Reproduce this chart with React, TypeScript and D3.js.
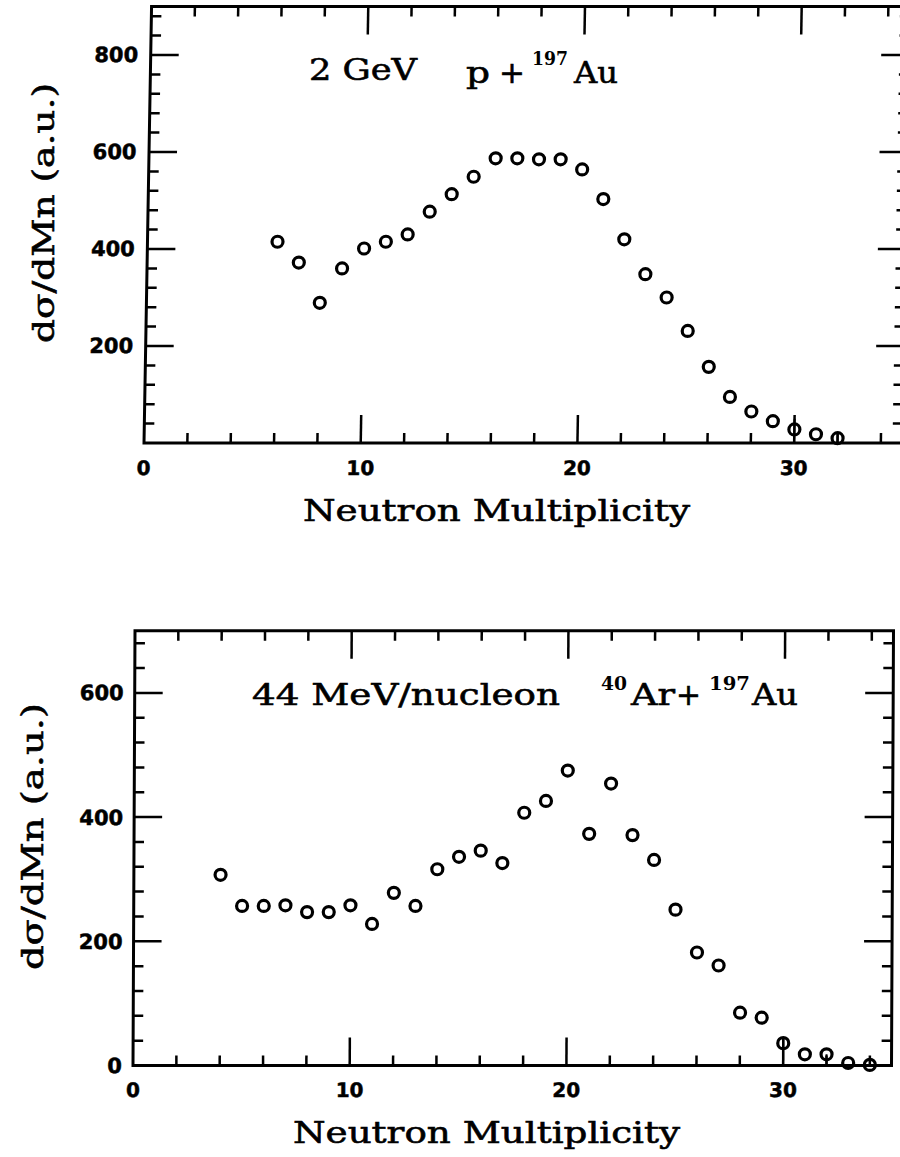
import React from "react";
import * as d3 from "d3";

// ---- data ----
const topN = [6, 7, 8, 9, 10, 11, 12, 13, 14, 15, 16, 17, 18, 19, 20, 21, 22, 23, 24, 25, 26, 27, 28, 29, 30, 31, 32];
const topV = [415, 372, 289, 360, 401, 415, 430, 477, 513, 549, 587, 587, 585, 585, 564, 503, 420, 348, 300, 231, 157, 95, 65, 45, 28, 18, 10];
const topErrN = [30, 32];
const topErrLo = [28, 10];
const topErrHi = [22, 8];

const botN = [4, 5, 6, 7, 8, 9, 10, 11, 12, 13, 14, 15, 16, 17, 18, 19, 20, 21, 22, 23, 24, 25, 26, 27, 28, 29, 30, 31, 32, 33, 34];
const botV = [307, 257, 257, 258, 247, 247, 258, 228, 278, 257, 316, 336, 346, 326, 407, 426, 475, 373, 454, 371, 331, 251, 182, 161, 85, 77, 36, 18, 18, 4, 1];
const botErrN = [30, 32];
const botErrLo = [36, 18];
const botErrHi = [10, 0];

const xTickLabels = [0, 10, 20, 30];
const topYTickLabels = [200, 400, 600, 800];
const botYTickLabels = [0, 200, 400, 600];

const xTitle = "Neutron Multiplicity";
const yTitle = "d\u03c3/dMn (a.u.)";

const SERIF = "'DejaVu Serif', serif";
const SANSB = "'DejaVu Sans', sans-serif";

type PanelProps = {
  x0: number; x1: number; yb: number; yt: number;
  yMax: number; skew: number;
  ns: number[]; vs: number[];
  errN: number[]; errLo: number[]; errHi: number[];
  yLabels: number[]; labelGap: number;
};

function Panel(p: PanelProps) {
  const x = d3.scaleLinear().domain([0, 35]).range([p.x0, p.x1]);
  const y = d3.scaleLinear().domain([0, p.yMax]).range([p.yb, p.yt]);
  const xMinor = d3.range(2, 35, 2).filter((v) => v % 10 !== 0);
  const xMajor = [10, 20, 30];
  const yMinor = d3.range(40, p.yMax, 40).filter((v) => v % 200 !== 0);
  const yMajor = d3.range(200, p.yMax, 200);
  const k = p.skew;
  const tf = `matrix(1,0,${k},1,${-k * p.yb},0)`;
  const MAJ = 28, MIN = 10;
  const ax = { stroke: "#000", strokeWidth: 3, fill: "none" } as const;
  const tk = { stroke: "#000", strokeWidth: 2.5 } as const;
  return (
    <g transform={tf}>
      <rect x={x(0)} y={y(p.yMax)} width={x(35) - x(0)} height={y(0) - y(p.yMax)} {...ax} />
      {xMinor.map((v) => (
        <g key={"xm" + v}>
          <line x1={x(v)} x2={x(v)} y1={y(0)} y2={y(0) - MIN} {...tk} />
          <line x1={x(v)} x2={x(v)} y1={y(p.yMax)} y2={y(p.yMax) + MIN} {...tk} />
        </g>
      ))}
      {xMajor.map((v) => (
        <g key={"xM" + v}>
          <line x1={x(v)} x2={x(v)} y1={y(0)} y2={y(0) - MAJ} {...tk} />
          <line x1={x(v)} x2={x(v)} y1={y(p.yMax)} y2={y(p.yMax) + MAJ} {...tk} />
        </g>
      ))}
      {yMinor.map((v) => (
        <g key={"ym" + v}>
          <line x1={x(0)} x2={x(0) + MIN} y1={y(v)} y2={y(v)} {...tk} />
          <line x1={x(35)} x2={x(35) - MIN} y1={y(v)} y2={y(v)} {...tk} />
        </g>
      ))}
      {yMajor.map((v) => (
        <g key={"yM" + v}>
          <line x1={x(0)} x2={x(0) + MAJ} y1={y(v)} y2={y(v)} {...tk} />
          <line x1={x(35)} x2={x(35) - MAJ} y1={y(v)} y2={y(v)} {...tk} />
        </g>
      ))}
      {p.yLabels.map((v) => (
        <text key={"yl" + v} x={x(0) - p.labelGap} y={y(v) + 7.5} textAnchor="end"
          fontFamily={SANSB} fontWeight="bold" fontSize={21} stroke="#000" strokeWidth={0.5}>{v}</text>
      ))}
      {xTickLabels.map((v) => (
        <text key={"xl" + v} x={x(v)} y={y(0) + 32} textAnchor="middle"
          fontFamily={SANSB} fontWeight="bold" fontSize={20} stroke="#000" strokeWidth={0.5}>{v}</text>
      ))}
      {p.errN.map((n, i) => {
        const v = p.vs[p.ns.indexOf(n)];
        return (
          <line key={"e" + n} x1={x(n)} x2={x(n)} y1={y(Math.max(0, v - p.errLo[i]))} y2={y(v + p.errHi[i])}
            stroke="#000" strokeWidth={2} />
        );
      })}
      {p.ns.map((n, i) => (
        <circle key={"c" + n} cx={x(n)} cy={y(p.vs[i])} r={5.5} fill="none" stroke="#000" strokeWidth={3.2} />
      ))}
    </g>
  );
}

type TProps = { x: number; y: number; w: number; size: number; children: string; bold?: boolean };
function T({ x, y, w, size, children, bold }: TProps) {
  return (
    <text x={x} y={y} textLength={w} lengthAdjust="spacingAndGlyphs" fontFamily={SERIF}
      fontSize={size} fontWeight={bold ? "bold" : "normal"} stroke="#000" strokeWidth={bold ? 0 : 0.6}>
      {children}
    </text>
  );
}

export default function App() {
  return (
    <svg width={900} height={1157} viewBox="0 0 900 1157"
      style={{ position: "absolute", left: 0, top: 0, background: "#fff" }}>
      <rect x={0} y={0} width={900} height={1157} fill="#fff" />
      <Panel x0={144} x1={902.5} yb={443} yt={6.5} yMax={900} skew={-0.0173}
        ns={topN} vs={topV} errN={topErrN} errLo={topErrLo} errHi={topErrHi}
        yLabels={topYTickLabels} labelGap={12.5} />
      <Panel x0={133} x1={891.5} yb={1065.5} yt={630.8} yMax={700} skew={-0.0046}
        ns={botN} vs={botV} errN={botErrN} errLo={botErrLo} errHi={botErrHi}
        yLabels={botYTickLabels} labelGap={11} />

      {/* top title */}
      <T x={309} y={80} w={108} size={30}>2 GeV</T>
      <T x={466} y={83} w={24} size={30}>p</T>
      <T x={499} y={83} w={26} size={30}>+</T>
      <T x={574} y={83} w={44} size={30}>Au</T>
      <T x={532} y={65} w={36} size={18} bold>197</T>

      {/* bottom title */}
      <T x={252} y={705} w={308} size={30}>44 MeV/nucleon</T>
      <T x={631} y={705} w={44} size={30}>Ar</T>
      <T x={676} y={705} w={25} size={30}>+</T>
      <T x={752} y={705} w={46} size={30}>Au</T>
      <T x={601} y={690} w={26} size={18} bold>40</T>
      <T x={709} y={690} w={41} size={18} bold>197</T>

      {/* axis titles */}
      <T x={303} y={521} w={387} size={30}>{xTitle}</T>
      <T x={293} y={1143} w={387} size={30}>{xTitle}</T>
      <g transform="translate(54,343) rotate(-90)">
        <T x={0} y={0} w={260} size={30}>{yTitle}</T>
      </g>
      <g transform="translate(43,970) rotate(-90)">
        <T x={0} y={0} w={267} size={30}>{yTitle}</T>
      </g>
    </svg>
  );
}
